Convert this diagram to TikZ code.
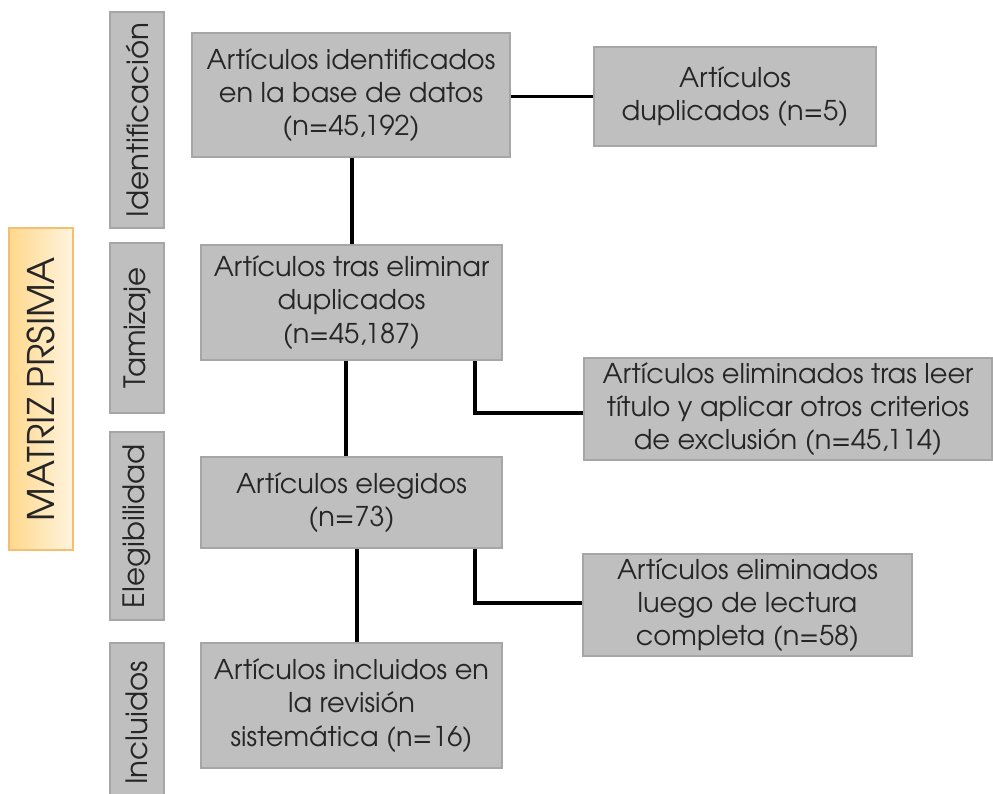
\documentclass[tikz,border=0pt]{standalone}
\usepackage{fontspec}
\setmainfont{TeX Gyre Adventor}
\definecolor{boxfill}{HTML}{BFBFBF}
\definecolor{boxline}{HTML}{A6A6A6}
\definecolor{txt}{HTML}{262626}
\definecolor{orline}{HTML}{F6BE72}
\definecolor{orleft}{HTML}{FFD88C}
\definecolor{orright}{HTML}{FFF4DF}
\begin{document}
\begin{tikzpicture}[x=0.75pt,y=-0.75pt,
  box/.style={draw=boxline, fill=boxfill, line width=1.2pt, align=center, text=txt,
    font=\fontsize{20.4}{25}\selectfont, inner sep=0pt},
  stage/.style={box, rotate=90, minimum height=40.5pt, font=\fontsize{22}{26}\selectfont},
  link/.style={line width=2.5pt, draw=black}]
\clip (0,0) rectangle (993,793);
\fill[white] (0,0) rectangle (993,793);

% MATRIZ label
\node[draw=orline, line width=1.2pt, left color=orleft, right color=orright, rotate=90,
  minimum width=241.5pt, minimum height=48pt, inner sep=0pt, text=txt,
  font=\fontsize{27.5}{32}\selectfont] (matriz) at (41,389) {MATRIZ PRSIMA};

% stage boxes
\node[stage, minimum width=162pt] (ident) at (137,120) {Identificación};
\node[stage, minimum width=127.5pt] (tami) at (137,328) {Tamizaje};
\node[stage, minimum width=141pt] (eleg) at (137,526) {Elegibilidad};
\node[stage, minimum width=120pt] (incl) at (137,723) {Incluidos};

% main boxes
\node[box, minimum width=238.5pt, minimum height=93pt] (b1) at (351,95)
  {Artículos identificados\\en la base de datos\\(n=45,192)};
\node[box, minimum width=225.75pt, minimum height=86.25pt] (b2) at (351.5,302.5)
  {Artículos tras eliminar\\duplicados\\(n=45,187)};
\node[box, minimum width=225.75pt, minimum height=68.25pt] (b3) at (351.5,502.5)
  {Artículos elegidos\\(n=73)};
\node[box, minimum width=225.75pt, minimum height=93.75pt] (b4) at (351.5,705.5)
  {Artículos incluidos en\\la revisión\\sistemática (n=16)};

% right boxes
\node[box, minimum width=211.5pt, minimum height=74.25pt] (r1) at (735,96.5)
  {Artículos\\duplicados (n=5)};
\node[box, minimum width=306pt, minimum height=76.5pt] (r2) at (788,409)
  {Artículos eliminados tras leer\\título y aplicar otros criterios\\de exclusión (n=45,114)};
\node[box, minimum width=246.75pt, minimum height=76.5pt] (r3) at (747.5,605)
  {Artículos eliminados\\luego de lectura\\completa (n=58)};

% connectors
\coordinate (x1) at (352,0);
\coordinate (x2) at (346,0);
\coordinate (x3) at (475,0);
\coordinate (x4) at (357,0);
\coordinate (y2) at (0,413);
\coordinate (y3) at (0,603);
\draw[link] (b1.east |- r1.west) -- (r1.west);
\draw[link] (x1 |- b1.south) -- (x1 |- b2.north);
\draw[link] (x2 |- b2.south) -- (x2 |- b3.north);
\draw[link] (x3 |- b2.south) -- (x3 |- y2) -- (r2.west |- y2);
\draw[link] (x4 |- b3.south) -- (x4 |- b4.north);
\draw[link] (x3 |- b3.south) -- (x3 |- y3) -- (r3.west |- y3);
\end{tikzpicture}
\end{document}
